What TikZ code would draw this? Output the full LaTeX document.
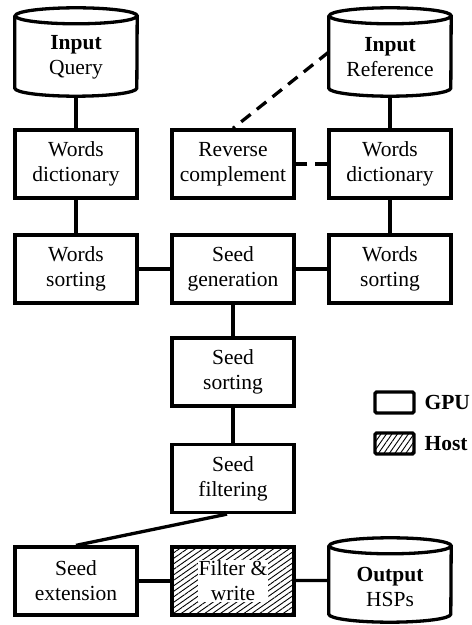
\documentclass[tikz,border=0pt]{standalone}
\usepackage{fontspec}
\setmainfont{Liberation Serif}
\usetikzlibrary{patterns.meta}
\begin{document}
\begin{tikzpicture}[x=1pt,y=1pt,
  every node/.style={font=\fontsize{21.5}{25}\selectfont, align=center},
  box/.style={draw, line width=3.3pt, minimum width=122pt, minimum height=68pt, inner sep=0pt},
  cylnode/.style={minimum width=122pt, minimum height=88pt, inner sep=0pt},
  cyl/.style={line width=3.3pt},
  conn/.style={line width=3.3pt},
  dconn/.style={line width=3.3pt, dash pattern=on 12pt off 8pt},
  legbox/.style={draw, line width=3.3pt, rounded corners=1.5pt, minimum width=39pt, minimum height=21pt, inner sep=0pt},
  legtext/.style={anchor=west, font=\fontsize{21.5}{25}\selectfont\bfseries}
]
\useasboundingbox (0,0) rectangle (472,625);

% cylinders (invisible name nodes)
\node[cylnode] (q) at (76,573) {};
\node[cylnode] (ref) at (390,573) {};
\node[cylnode, minimum height=84pt] (out) at (390,45) {};

\foreach \n in {q,ref,out}{
  \draw[cyl] ([yshift=-8pt]\n.north west) -- ([yshift=8pt]\n.south west)
    arc[start angle=180,end angle=360,x radius=61pt,y radius=8pt]
    -- ([yshift=-8pt]\n.north east)
    arc[start angle=0,end angle=180,x radius=61pt,y radius=8pt]
    arc[start angle=180,end angle=360,x radius=61pt,y radius=8pt];
}
\node (qt) at ([yshift=-5pt]q.center) {\textbf{Input}\\Query};
\node (reft) at ([yshift=-5pt]ref.center) {\textbf{Input}\\Reference};
\node (outt) at ([yshift=-7pt]out.center) {\textbf{Output}\\HSPs};

% boxes
\node[box] (wdL) at (76,461) {Words\\dictionary};
\node[box] (rc)  at (233,461) {Reverse\\complement};
\node[box] (wdR) at (390,461) {Words\\dictionary};
\node[box] (wsL) at (76,356) {Words\\sorting};
\node[box] (sg)  at (233,356) {Seed\\generation};
\node[box] (wsR) at (390,356) {Words\\sorting};
\node[box] (ss)  at (233,253) {Seed\\sorting};
\node[box] (sf)  at (233,146.5) {Seed\\filtering};
\node[box] (se)  at (76,44) {Seed\\extension};
\node[box, pattern={Lines[angle=35,distance=4.5pt,line width=0.9pt]}] (fw) at (233,44) {};
\node[fill=white, inner sep=1pt] (fwt) at (fw.center) {Filter \&\\write};

% connectors
\draw[conn] (q) -- (wdL);
\draw[conn] (wdL) -- (wsL);
\draw[conn] (wsL) -- (sg);
\draw[conn] (sg) -- (wsR);
\draw[conn] (ref) -- (wdR);
\draw[conn] (wdR) -- (wsR);
\draw[conn] (sg) -- (ss);
\draw[conn] (ss) -- (sf);
\draw[conn] ([xshift=-6pt]sf.south) -- (se.north);
\draw[conn] (se) -- (fw);
\draw[conn] (fw) -- (out);
\draw[dconn] (ref.west) -- (rc.north);
\draw[dconn] (wdR.west) -- (rc.east);

% legend
\node[legbox] (lg) at (394.5,222.5) {};
\node[legtext] (lgt) at (421,222.5) {GPU};
\node[legbox, pattern={Lines[angle=55,distance=4.5pt,line width=0.9pt]}] (lh) at (394.5,181.5) {};
\node[legtext] (lht) at (421,181.5) {Host};
\end{tikzpicture}
\end{document}
